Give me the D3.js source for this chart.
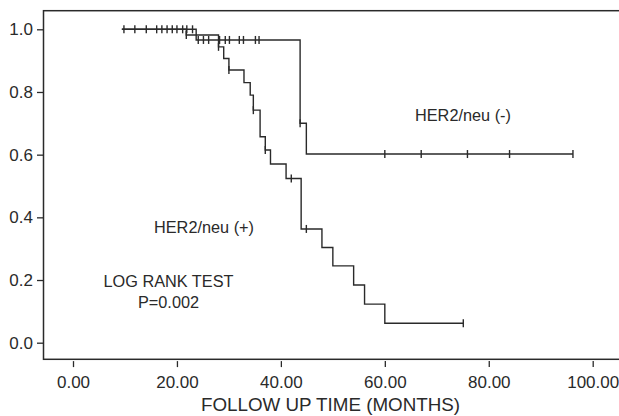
<!DOCTYPE html>
<html><head><meta charset="utf-8">
<script src="https://cdn.jsdelivr.net/npm/d3@7/dist/d3.min.js"></script>
<style>html,body{margin:0;padding:0;background:#fff;}svg{display:block;}</style>
</head><body>
<svg id="c" width="619" height="416"></svg>
<script>
// ---- data ----
const negTimes = [9.4, 23.7, 43.7, 44.9, 96.2];
const negSurv  = [1.0, 0.966, 0.700, 0.602, 0.602];
const negCensor = [9.8, 11.9, 14.1, 16.1, 17.1, 18.1, 19.1, 20.0, 21.1, 21.9, 23.0,
                   24.1, 25.1, 26.1, 28.2, 29.3, 30.1, 32.0, 32.8, 35.1, 35.8,
                   43.7, 60.0, 67.0, 75.9, 84.0, 96.2];
const posTimes = [9.4, 21.8, 28.0, 29.0, 30.0, 32.9, 34.1, 34.7, 36.0, 37.0, 38.0, 41.0, 43.9, 47.9, 50.0, 54.0, 56.1, 60.0, 75.1];
const posSurv  = [1.0, 0.982, 0.944, 0.907, 0.870, 0.830, 0.790, 0.742, 0.657, 0.615, 0.570, 0.524, 0.363, 0.304, 0.245, 0.184, 0.123, 0.062, 0.062];
const posCensor = [21.8, 28.0, 30.0, 34.7, 37.0, 42.0, 44.9, 75.1];
const xTicks = [0, 20, 40, 60, 80, 100];
const yTicks = [0, 0.2, 0.4, 0.6, 0.8, 1.0];
const xTitle = "FOLLOW UP TIME (MONTHS)";
const labelNeg = "HER2/neu (-)";
const labelPos = "HER2/neu (+)";
const testLines = ["LOG RANK TEST", "P=0.002"];

// ---- drawing ----
const svg = d3.select("#c");
const ink = "#2a2a2a";
const x = d3.scaleLinear().domain([0, 100]).range([73, 592.7]);
const y = d3.scaleLinear().domain([0, 1]).range([342.7, 29.3]);
const box = {l: 43.5, t: 10.7, r: 630, b: 359.3};
const font = "'Liberation Sans', Arial, sans-serif";

svg.append("rect").attr("x", box.l).attr("y", box.t)
  .attr("width", box.r - box.l).attr("height", box.b - box.t)
  .attr("fill", "none").attr("stroke", ink).attr("stroke-width", 1.5);

// y axis
const yAx = svg.append("g").attr("transform", `translate(${box.l},0)`)
  .call(d3.axisLeft(y).tickValues(yTicks).tickFormat(d3.format(".1f")).tickSize(6.5).tickPadding(4));
yAx.select(".domain").remove();
yAx.selectAll("line").attr("stroke", ink).attr("stroke-width", 1.3);
yAx.selectAll("text").attr("fill", ink).style("font-family", font).style("font-size", "17px");

// x axis
const xAx = svg.append("g").attr("transform", `translate(0,${box.b + 1.8})`)
  .call(d3.axisBottom(x).tickValues(xTicks).tickFormat(d3.format(".2f")).tickSize(6).tickPadding(9));
xAx.select(".domain").remove();
xAx.selectAll("line").attr("stroke", ink).attr("stroke-width", 1.3);
xAx.selectAll("text").attr("fill", ink).style("font-family", font).style("font-size", "17px");

svg.append("text").attr("x", 330.5).attr("y", 411).attr("text-anchor", "middle")
  .attr("fill", ink).style("font-family", font).style("font-size", "18.8px").text(xTitle);

const line = d3.line().x(d => x(d[0])).y(d => y(d[1])).curve(d3.curveStepAfter);
function stepAt(times, surv, t) {
  let s = surv[0];
  for (let i = 0; i < times.length; i++) if (times[i] <= t + 1e-9) s = surv[i];
  return s;
}
function drawCurve(times, surv, cens) {
  svg.append("path").datum(times.map((t, i) => [t, surv[i]]))
    .attr("d", line).attr("fill", "none").attr("stroke", ink).attr("stroke-width", 1.4);
  svg.append("g").selectAll("line").data(cens).join("line")
    .attr("x1", d => x(d)).attr("x2", d => x(d))
    .attr("y1", d => y(stepAt(times, surv, d)) - 4)
    .attr("y2", d => y(stepAt(times, surv, d)) + 4)
    .attr("stroke", ink).attr("stroke-width", 1.4);
}
drawCurve(negTimes, negSurv, negCensor);
drawCurve(posTimes, posSurv, posCensor);

const tStyle = s => s.attr("fill", ink).style("font-family", font).style("font-size", "16.3px");
svg.append("text").attr("x", 415).attr("y", 121).text(labelNeg).call(tStyle);
svg.append("text").attr("x", 154).attr("y", 233).text(labelPos).call(tStyle);
svg.append("text").attr("x", 168.5).attr("text-anchor", "middle").call(tStyle)
  .selectAll("tspan").data(testLines).join("tspan")
  .attr("x", 168.5).attr("y", (d, i) => 287 + i * 21).text(d => d);
</script>
</body></html>
